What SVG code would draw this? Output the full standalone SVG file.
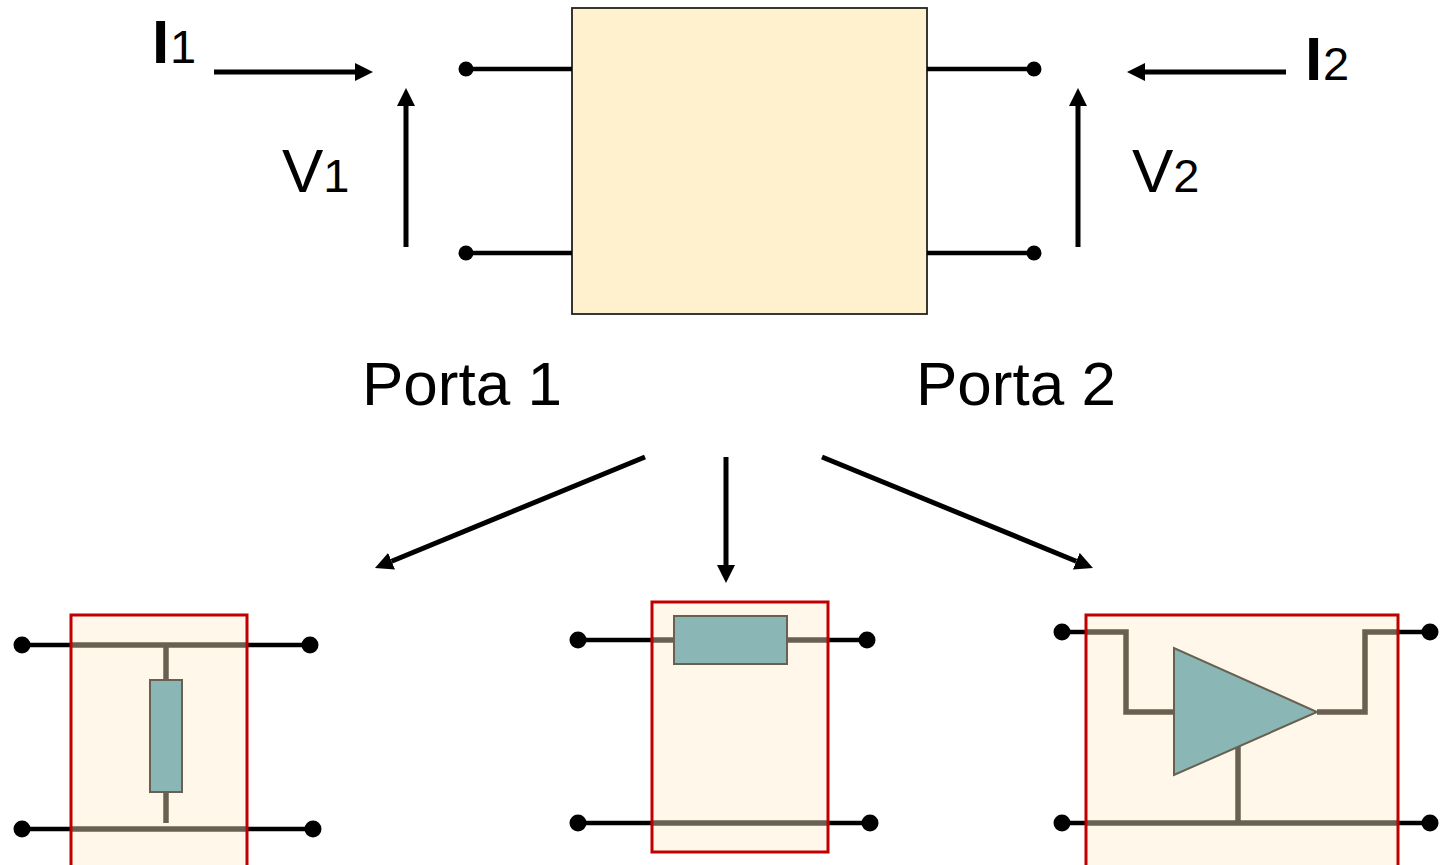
<svg xmlns="http://www.w3.org/2000/svg" width="1441" height="865" viewBox="0 0 1441 865">
<defs>
<style>
.t{font-family:"Liberation Sans",Arial,sans-serif;fill:#000}
.big{font-size:62px}
.sub{font-size:47px}
.b{font-weight:bold}
.wire{stroke:#000;stroke-width:4.5;fill:none}
.arr{stroke:#000;stroke-width:5;fill:none}
.gw{stroke:#686050;stroke-width:5.5;fill:none}
.blk{fill:#FFF7EA;stroke:none}
.red{fill:none;stroke:#C00000;stroke-width:3}
.comp{fill:#8AB7B6;stroke:#686050;stroke-width:2}
</style>
<marker id="ah" viewBox="0 0 18 18" refX="0" refY="9" markerWidth="18" markerHeight="18" orient="auto" markerUnits="userSpaceOnUse">
<path d="M0,0 L18,9 L0,18 Z" fill="#000"/>
</marker>
</defs>
<rect width="1441" height="865" fill="#fff"/>

<g id="twoport">
<rect x="572" y="8" width="355" height="306" fill="#FFF1CD" stroke="#222" stroke-width="1.8"/>
<line class="wire" x1="466" y1="69" x2="572" y2="69"/>
<line class="wire" x1="466" y1="253" x2="572" y2="253"/>
<line class="wire" x1="927" y1="69" x2="1034" y2="69"/>
<line class="wire" x1="927" y1="253" x2="1034" y2="253"/>
<circle cx="466" cy="69" r="7.5"/>
<circle cx="466" cy="253" r="7.5"/>
<circle cx="1034" cy="69" r="7.5"/>
<circle cx="1034" cy="253" r="7.5"/>
</g>

<g id="labels">
<text class="t" y="63"><tspan class="big b" x="152">I</tspan><tspan class="sub" x="170">1</tspan></text>
<text class="t" y="192"><tspan class="big" x="282">V</tspan><tspan class="sub">1</tspan></text>
<text class="t" y="80"><tspan class="big b" x="1305">I</tspan><tspan class="sub" x="1323">2</tspan></text>
<text class="t" y="192"><tspan class="big" x="1132">V</tspan><tspan class="sub">2</tspan></text>
<text class="t big" x="362" y="405">Porta 1</text>
<text class="t big" x="916" y="405">Porta 2</text>
</g>

<g id="connectors">
<line class="arr" x1="214" y1="72" x2="355" y2="72" marker-end="url(#ah)"/>
<line class="arr" x1="406" y1="247" x2="406" y2="106" marker-end="url(#ah)"/>
<line class="arr" x1="1286" y1="72" x2="1145" y2="72" marker-end="url(#ah)"/>
<line class="arr" x1="1078" y1="247" x2="1078" y2="106" marker-end="url(#ah)"/>
<line class="arr" x1="645" y1="457" x2="391.6" y2="561.2" marker-end="url(#ah)"/>
<line class="arr" x1="726" y1="457" x2="726" y2="565" marker-end="url(#ah)"/>
<line class="arr" x1="822" y1="457" x2="1076.3" y2="561.2" marker-end="url(#ah)"/>
</g>

<g id="shunt">
<line class="wire" x1="22" y1="645" x2="310" y2="645"/>
<line class="wire" x1="22" y1="829" x2="313" y2="829"/>
<rect class="blk" x="71" y="615" width="176" height="260"/>
<line class="gw" x1="71" y1="645" x2="247" y2="645"/>
<line class="gw" x1="71" y1="829" x2="247" y2="829"/>
<line class="gw" x1="166" y1="645" x2="166" y2="823"/>
<rect class="comp" x="150" y="680" width="32" height="112"/>
<rect class="red" x="71" y="615" width="176" height="260"/>
<circle cx="22" cy="645" r="8.5"/>
<circle cx="310" cy="645" r="8.5"/>
<circle cx="22" cy="829" r="8.5"/>
<circle cx="313" cy="829" r="8.5"/>
</g>

<g id="series">
<line class="wire" x1="578" y1="640" x2="867" y2="640"/>
<line class="wire" x1="578" y1="823" x2="870" y2="823"/>
<rect class="blk" x="652" y="602" width="176" height="250"/>
<line class="gw" x1="652" y1="640" x2="828" y2="640"/>
<line class="gw" x1="652" y1="823" x2="828" y2="823"/>
<rect class="comp" x="674" y="616" width="113" height="48"/>
<rect class="red" x="652" y="602" width="176" height="250"/>
<circle cx="578" cy="640" r="8.5"/>
<circle cx="867" cy="640" r="8.5"/>
<circle cx="578" cy="823" r="8.5"/>
<circle cx="870" cy="823" r="8.5"/>
</g>

<g id="amplifier">
<line class="wire" x1="1062" y1="632" x2="1090" y2="632"/>
<line class="wire" x1="1394" y1="632" x2="1430" y2="632"/>
<line class="wire" x1="1062" y1="823" x2="1430" y2="823"/>
<rect class="blk" x="1086" y="615" width="312" height="260"/>
<polyline class="gw" points="1086,632 1126,632 1126,712 1174,712"/>
<polyline class="gw" points="1317,712 1365,712 1365,632 1398,632"/>
<line class="gw" x1="1086" y1="823" x2="1398" y2="823"/>
<line class="gw" x1="1238" y1="745" x2="1238" y2="823"/>
<polygon class="comp" points="1174,648 1174,775 1317,712"/>
<rect class="red" x="1086" y="615" width="312" height="260"/>
<circle cx="1062" cy="632" r="8.5"/>
<circle cx="1430" cy="632" r="8.5"/>
<circle cx="1062" cy="823" r="8.5"/>
<circle cx="1430" cy="823" r="8.5"/>
</g>
</svg>
